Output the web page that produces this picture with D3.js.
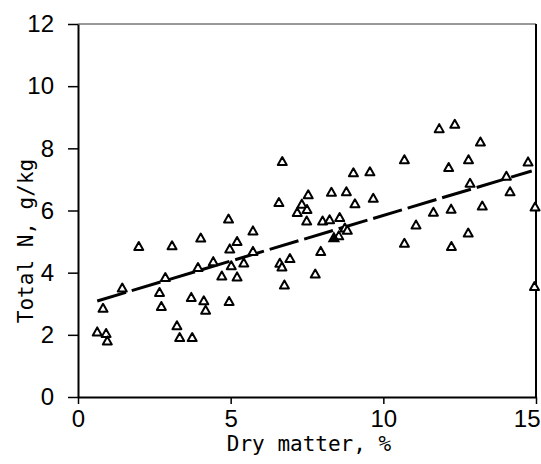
<!DOCTYPE html>
<html>
<head>
<meta charset="utf-8">
<script src="https://cdn.jsdelivr.net/npm/d3@7"></script>
<style>
  html, body { margin: 0; padding: 0; background: #fff; }
  svg { display: block; }
  .tick text { font-family: "Liberation Sans Narrow", "Arial Narrow", sans-serif; font-size: 24px; fill: #000; }
  .title { font-family: "DejaVu Sans Mono", monospace; font-size: 21px; fill: #000; }
</style>
</head>
<body>
<svg id="chart" width="541" height="464"></svg>
<script>
// Dry matter (%) and total N (g/kg), open triangles
const dryMatter = [
  4.93, 1.99, 3.08, 4.02, 4.97, 5.21, 4.43, 3.93, 5.02, 4.71, 5.21, 2.86, 1.45,
  2.67, 2.73, 0.82, 3.71, 4.12, 4.18, 4.95, 3.24, 3.33, 3.74, 0.63, 0.92, 0.96,
  6.69, 9.02, 9.56, 7.54, 8.30, 8.79, 6.58, 9.07, 9.67, 7.33, 7.18, 7.50, 7.49,
  8.01, 8.24, 8.57, 8.74, 8.82, 8.54, 5.73, 5.73, 5.43, 6.61, 6.68, 6.94, 7.95,
  7.77, 6.76,
  11.83, 12.34, 13.18, 10.69, 12.79, 12.14, 14.74, 14.03, 12.84, 14.15, 13.24,
  11.64, 12.22, 14.97, 11.07, 10.69, 12.78, 12.23, 14.95
];
const totalN = [
  5.74, 4.86, 4.88, 5.13, 4.78, 5.02, 4.37, 4.18, 4.24, 3.91, 3.88, 3.86, 3.52,
  3.38, 2.93, 2.87, 3.22, 3.11, 2.81, 3.09, 2.31, 1.93, 1.93, 2.11, 2.06, 1.82,
  7.59, 7.23, 7.26, 6.52, 6.60, 6.62, 6.27, 6.23, 6.41, 6.22, 5.95, 6.05, 5.68,
  5.68, 5.72, 5.79, 5.45, 5.38, 5.20, 5.36, 4.70, 4.33, 4.32, 4.20, 4.47, 4.70,
  3.97, 3.62,
  8.65, 8.79, 8.22, 7.65, 7.65, 7.40, 7.58, 7.12, 6.89, 6.62, 6.16,
  5.96, 6.06, 6.13, 5.55, 4.96, 5.29, 4.86, 3.57
];

// the one solid triangle
const filledX = [8.38];
const filledY = [5.14];

// regression line ends
const fitX = [0.63, 14.86];
const fitY = [3.09, 7.27];

const xTicks = [0, 5, 10, 15];
const yTicks = [0, 2, 4, 6, 8, 10, 12];

const margin = { top: 24, right: 5, bottom: 67, left: 78 };
const width = 541 - margin.left - margin.right;
const height = 464 - margin.top - margin.bottom;

const svg = d3.select('#chart');
const g = svg.append('g').attr('transform', `translate(${margin.left},${margin.top})`);

const x = d3.scaleLinear().domain([0, 15]).range([0, width]);
const y = d3.scaleLinear().domain([0, 12]).range([height, 0]);

// frame top and right
g.append('line')
  .attr('x1', 0).attr('x2', width).attr('y1', 0).attr('y2', 0)
  .attr('stroke', '#333').attr('stroke-width', 1);
g.append('line')
  .attr('x1', width).attr('x2', width).attr('y1', 0).attr('y2', height)
  .attr('stroke', '#000').attr('stroke-width', 2);

// axes
const yAxis = g.append('g')
  .call(d3.axisLeft(y).tickValues(yTicks).tickSize(10).tickSizeOuter(0).tickPadding(14));
const xAxis = g.append('g')
  .attr('transform', `translate(0,${height})`)
  .call(d3.axisBottom(x).tickValues(xTicks).tickSize(7).tickSizeOuter(0).tickPadding(6));

[yAxis, xAxis].forEach(a => {
  a.select('.domain').attr('stroke', '#000').attr('stroke-width', 2);
  a.selectAll('.tick line').attr('stroke', '#000').attr('stroke-width', 1.5);
});

// last x label sits against the page edge, keep it inside
xAxis.selectAll('.tick text')
  .filter(d => d === 15)
  .attr('text-anchor', 'end')
  .attr('x', 4);

// axis titles
svg.append('text')
  .attr('class', 'title')
  .attr('x', margin.left + width / 2 + 2)
  .attr('y', 451)
  .attr('text-anchor', 'middle')
  .text('Dry matter, %');

svg.append('text')
  .attr('class', 'title')
  .attr('transform', 'translate(33,241) rotate(-90)')
  .attr('text-anchor', 'middle')
  .text('Total N, g/kg');

// dashed regression line
const line = d3.line().x(d => x(d[0])).y(d => y(d[1]));
g.append('path')
  .datum(d3.zip(fitX, fitY))
  .attr('d', line)
  .attr('fill', 'none')
  .attr('stroke', '#000')
  .attr('stroke-width', 3)
  .attr('stroke-dasharray', '30,6');

// triangle marker centred on its box
const tri = 'M0,-4L4.5,4L-4.5,4Z';

g.selectAll('path.pt')
  .data(d3.zip(dryMatter, totalN))
  .enter()
  .append('path')
  .attr('class', 'pt')
  .attr('d', tri)
  .attr('transform', d => `translate(${x(d[0])},${y(d[1])})`)
  .attr('fill', '#fff')
  .attr('stroke', '#000')
  .attr('stroke-width', 2)
  .attr('stroke-linejoin', 'round');

g.selectAll('path.solid')
  .data(d3.zip(filledX, filledY))
  .enter()
  .append('path')
  .attr('class', 'solid')
  .attr('d', tri)
  .attr('transform', d => `translate(${x(d[0])},${y(d[1])})`)
  .attr('fill', '#000')
  .attr('stroke', '#000')
  .attr('stroke-width', 2);
</script>
</body>
</html>
